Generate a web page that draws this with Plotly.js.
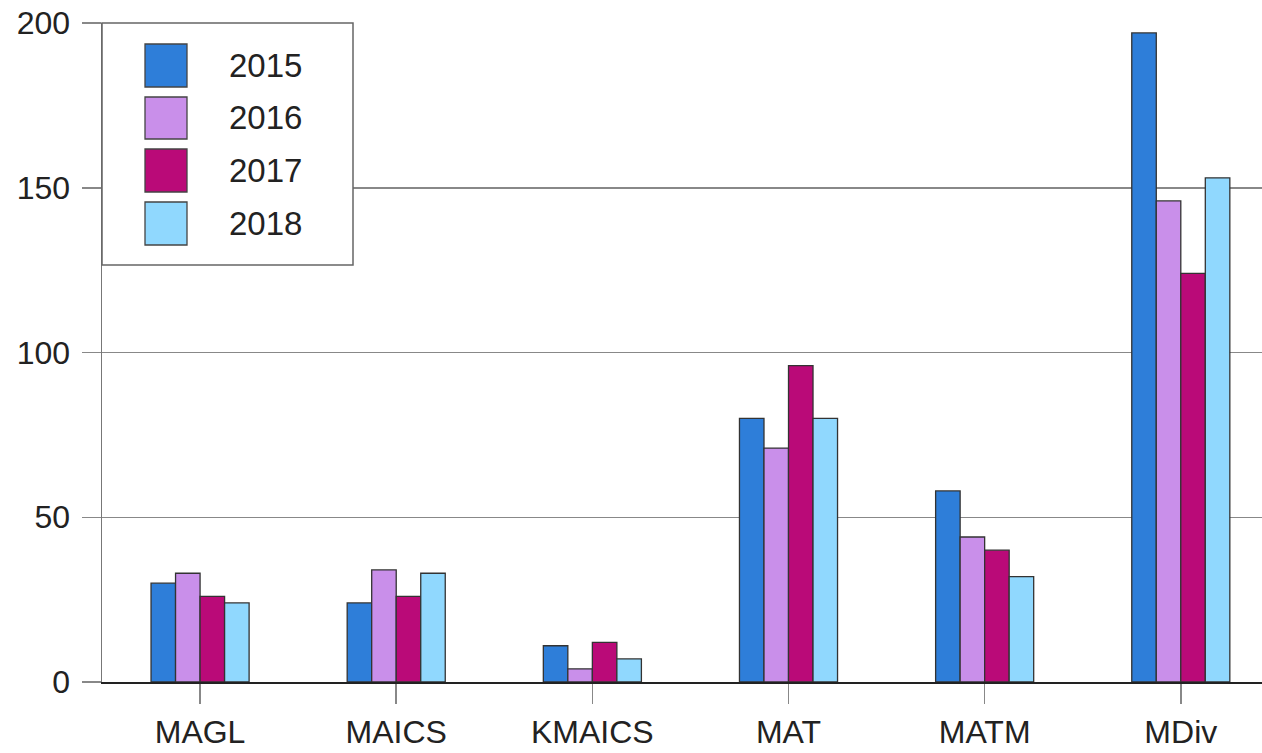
<!DOCTYPE html>
<html>
<head>
<meta charset="utf-8">
<script src="https://cdn.plot.ly/plotly-3.0.1.min.js"></script>
<style>
html,body{margin:0;padding:0;background:#fff;}
#chart{width:1262px;height:753px;}
</style>
</head>
<body>
<div id="chart"></div>
<script>
const categories = ["MAGL", "MAICS", "KMAICS", "MAT", "MATM", "MDiv"];
const years = ["2015", "2016", "2017", "2018"];
const v2015 = [30, 24, 11, 80, 58, 197];
const v2016 = [33, 34, 4, 71, 44, 146];
const v2017 = [26, 26, 12, 96, 40, 124];
const v2018 = [24, 33, 7, 80, 32, 153];
const colors = ["#2E7ED9", "#C98FEA", "#BA0A78", "#90D8FE"];
const seriesValues = [v2015, v2016, v2017, v2018];

const W = 1262, H = 753;
const mL = 102, mT = 23, mB = 71, mR = 0;
const pw = W - mL - mR, ph = H - mT - mB;
const px = x => (x - mL) / pw;
const py = y => (H - mB - y) / ph;

const traces = years.map((yr, i) => ({
  type: "bar",
  name: yr,
  x: categories,
  y: seriesValues[i],
  marker: {color: colors[i], line: {color: "#333", width: 1.3}},
  showlegend: false,
  hoverinfo: "x+y+name"
}));

const shapes = [{
  type: "rect", xref: "paper", yref: "paper",
  x0: px(102), x1: px(353), y0: py(265), y1: py(23),
  line: {color: "#666", width: 1.5}, fillcolor: "#fff", layer: "above"
}];
const annotations = [];
const sw = [[44, 87], [97, 139], [149, 192], [202, 245]];
years.forEach((yr, i) => {
  shapes.push({
    type: "rect", xref: "paper", yref: "paper",
    x0: px(145), x1: px(187), y0: py(sw[i][1]), y1: py(sw[i][0]),
    fillcolor: colors[i], line: {color: "#444", width: 1.3}, layer: "above"
  });
  annotations.push({
    xref: "paper", yref: "paper", x: px(227), y: py((sw[i][0] + sw[i][1]) / 2),
    xanchor: "left", yanchor: "middle", showarrow: false, text: yr,
    font: {size: 33, color: "#222", family: "Liberation Sans, Arial, sans-serif"}
  });
});

const layout = {
  width: W, height: H,
  margin: {l: mL, r: mR, t: mT, b: mB, pad: 0},
  paper_bgcolor: "#fff", plot_bgcolor: "#fff",
  font: {family: "Liberation Sans, Arial, sans-serif", size: 32, color: "#222"},
  barmode: "group", bargap: 0.5, bargroupgap: 0,
  xaxis: {
    type: "category", range: [-0.5, 5.414],
    showline: true, linecolor: "#222", linewidth: 1.5,
    ticks: "outside", ticklen: 20, tickcolor: "#888", tickwidth: 1.5,
    ticklabelstandoff: 1,
    tickfont: {size: 32, color: "#222"},
    showgrid: false, fixedrange: true
  },
  yaxis: {
    range: [0, 200], tickvals: [0, 50, 100, 150, 200],
    showgrid: true, gridcolor: "#888", gridwidth: 1.5,
    zeroline: false,
    showline: true, linecolor: "#777", linewidth: 1.5,
    ticks: "outside", ticklen: 19, tickcolor: "#888", tickwidth: 1.5,
    ticklabelstandoff: 5,
    tickfont: {size: 32, color: "#222"},
    fixedrange: true
  },
  shapes: shapes,
  annotations: annotations
};

Plotly.newPlot("chart", traces, layout, {displayModeBar: false, staticPlot: true});
</script>
</body>
</html>
